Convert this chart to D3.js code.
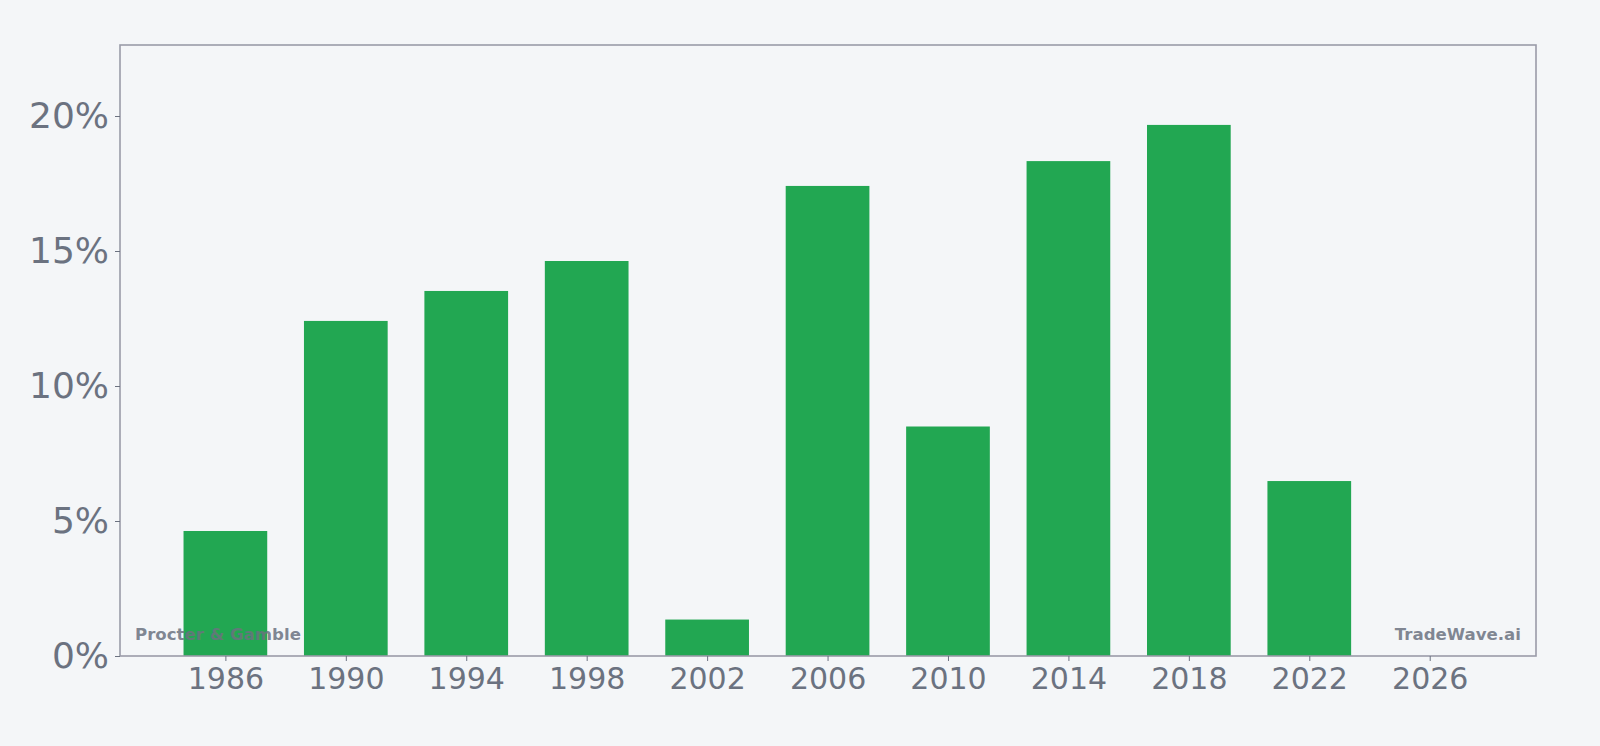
<!DOCTYPE html>
<html>
<head>
<meta charset="utf-8">
<script src="https://cdn.jsdelivr.net/npm/d3@7"></script>
<style>
  html, body { margin: 0; padding: 0; background: #f4f6f8; }
  svg { display: block; font-family: "DejaVu Sans", sans-serif; }
</style>
</head>
<body>
<svg id="chart"></svg>
<script>
// data
var years = [1986, 1990, 1994, 1998, 2002, 2006, 2010, 2014, 2018, 2022];
var growth = [4.63, 12.41, 13.52, 14.63, 1.35, 17.41, 8.5, 18.33, 19.67, 6.48];
var xTicks = [1986, 1990, 1994, 1998, 2002, 2006, 2010, 2014, 2018, 2022, 2026];
var yTicks = [0, 5, 10, 15, 20];

var W = 1600, H = 746;
var margin = {top: 45, right: 64, bottom: 90, left: 120};
var width = W - margin.left - margin.right,
    height = H - margin.top - margin.bottom;

var svg = d3.select("#chart")
    .attr("width", W)
    .attr("height", H);

var g = svg.append("g")
    .attr("transform", "translate(" + margin.left + "," + margin.top + ")");

var x = d3.scaleLinear()
  .domain([1982.5, 2029.53])
  .range([0, width]);

var y = d3.scaleLinear()
  .domain([0, 22.63])
  .range([height, 0]);

var barW = x(1982.5 + 2.78) - x(1982.5);

// bars
g.selectAll("rect.bar")
  .data(years)
  .enter()
  .append("rect")
    .attr("class", "bar")
    .attr("x", function(d) { return x(d) - barW / 2; })
    .attr("y", function(d, i) { return y(growth[i]); })
    .attr("width", barW)
    .attr("height", function(d, i) { return height - y(growth[i]); })
    .attr("fill", "#22a752");

// watermark texts
g.append("text")
  .attr("x", 15)
  .attr("y", height - 16)
  .attr("font-size", 16.6)
  .attr("font-weight", "bold")
  .attr("fill", "#6b7280")
  .attr("fill-opacity", 0.85)
  .text("Procter & Gamble");

g.append("text")
  .attr("x", width - 15)
  .attr("y", height - 16)
  .attr("text-anchor", "end")
  .attr("font-size", 16.6)
  .attr("font-weight", "bold")
  .attr("fill", "#6b7280")
  .attr("fill-opacity", 0.85)
  .text("TradeWave.ai");

// frame
g.append("rect")
  .attr("x", 0)
  .attr("y", 0)
  .attr("width", width)
  .attr("height", height)
  .attr("fill", "none")
  .attr("stroke", "#9a9ca8")
  .attr("stroke-width", 1.6);

// x axis
var xAxis = g.append("g")
  .attr("transform", "translate(0," + height + ")")
  .call(d3.axisBottom(x).tickValues(xTicks).tickFormat(d3.format("d")).tickSize(5).tickPadding(7));
xAxis.select(".domain").remove();
xAxis.selectAll("line").attr("stroke", "#6b7280");
xAxis.selectAll("text")
  .attr("font-size", 30)
  .attr("font-family", "DejaVu Sans, sans-serif")
  .attr("fill", "#6b7280");

// y axis
var yAxis = g.append("g")
  .call(d3.axisLeft(y).tickValues(yTicks).tickFormat(function(d) { return d + "%"; }).tickSize(5).tickPadding(6));
yAxis.select(".domain").remove();
yAxis.selectAll("line").attr("stroke", "#6b7280");
yAxis.selectAll("text")
  .attr("font-size", 36)
  .attr("font-family", "DejaVu Sans, sans-serif")
  .attr("fill", "#6b7280");
</script>
</body>
</html>
